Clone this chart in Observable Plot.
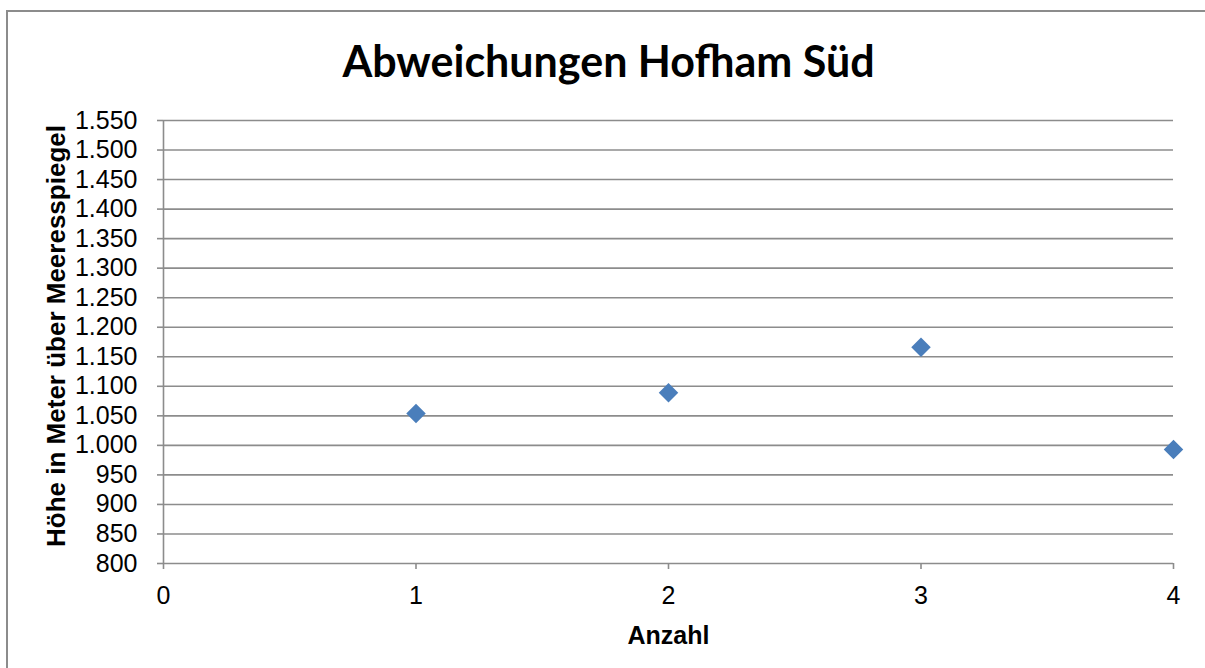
<!DOCTYPE html>
<html>
<head>
<meta charset="utf-8">
<script src="https://cdn.jsdelivr.net/npm/d3@7"></script>
<script src="https://cdn.jsdelivr.net/npm/@observablehq/plot@0.6"></script>
<style>
  html, body { margin: 0; padding: 0; background: #fff; overflow: hidden; }
  #wrap { position: relative; width: 1205px; height: 668px; overflow: hidden; }
  #border { position: absolute; left: 6px; top: 10px; width: 1300px; height: 800px;
            border: 2px solid #8c8c8c; pointer-events: none; box-sizing: border-box; }
</style>
</head>
<body>
<div id="wrap"><div id="border"></div></div>
<script>
const chartTitle = "Abweichungen Hofham Süd";
const xLabel = "Anzahl";
const yLabel = "Höhe in Meter über Meeresspiegel";
const xValues = [1, 2, 3, 4];
const heights = [1054, 1089, 1166, 993];
const xTicks = [0, 1, 2, 3, 4];
const yTicks = [800, 850, 900, 950, 1000, 1050, 1100, 1150, 1200, 1250, 1300, 1350, 1400, 1450, 1500, 1550];

const de = d3.formatLocale({decimal: ",", thousands: ".", grouping: [3], currency: ["", " €"]});
const fmt = de.format(",");

const data = xValues.map((x, i) => ({x, h: heights[i]}));
const gray = "#8c8c8c";
const font = "'Liberation Sans', Arial, sans-serif";

const chart = Plot.plot({
  width: 1205,
  height: 668,
  marginLeft: 163,
  marginRight: 32,
  marginTop: 120,
  marginBottom: 105,
  style: {fontFamily: font, background: "transparent", overflow: "visible"},
  x: {domain: [0, 4]},
  y: {domain: [800, 1550]},
  marks: [
    Plot.ruleY(yTicks, {stroke: gray, strokeWidth: 1.6}),
    Plot.ruleX([0], {stroke: gray, strokeWidth: 1.6}),
    Plot.axisY({ticks: yTicks, tickSize: 6, tickPadding: 20, tickFormat: fmt, fontSize: 25,
                stroke: gray, strokeWidth: 1.6, fill: "black", label: null}),
    Plot.axisX({ticks: xTicks, tickSize: 6, tickPadding: 17, tickFormat: d => String(d), fontSize: 25,
                stroke: gray, strokeWidth: 1.6, fill: "black", label: null}),
    Plot.dot(data, {x: "x", y: "h", symbol: "diamond2", r: 8.8, fill: "#4a7ebb", stroke: "none"}),
    Plot.text([chartTitle], {frameAnchor: "top", dx: -60, dy: -44, lineAnchor: "bottom",
                fontSize: 43, fontWeight: "bold", fontFamily: "Lato, 'Open Sans', sans-serif", fill: "black"}),
    Plot.text([yLabel], {frameAnchor: "left", textAnchor: "middle", dx: -107, dy: -6, rotate: -90,
                fontSize: 26, fontWeight: "bold", fill: "black"}),
    Plot.text([xLabel], {frameAnchor: "bottom", textAnchor: "middle", dy: 80, lineAnchor: "bottom",
                fontSize: 25, fontWeight: "bold", fill: "black"})
  ]
});
document.getElementById("wrap").appendChild(chart);
chart.style.position = "absolute";
chart.style.left = "0";
chart.style.top = "0";
</script>
</body>
</html>
